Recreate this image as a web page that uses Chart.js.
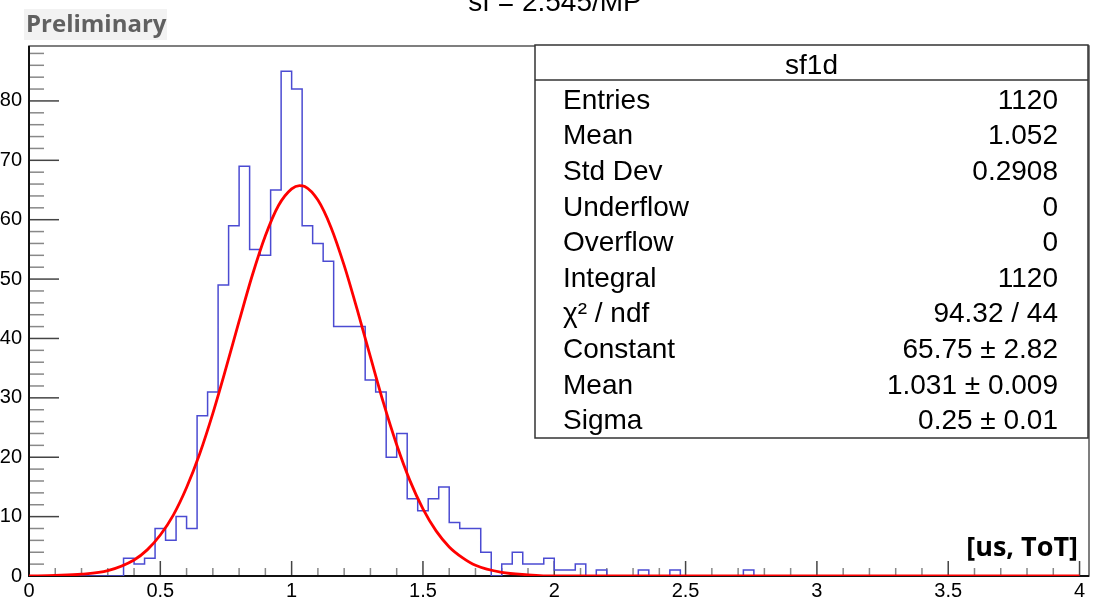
<!DOCTYPE html>
<html>
<head>
<meta charset="utf-8">
<title>sf1d</title>
<script src="https://cdn.jsdelivr.net/npm/chart.js@4.4.0/dist/chart.umd.min.js"></script>
<style>
  body { margin: 0; background: #fff; }
  #wrap { position: relative; width: 1101px; height: 606px; }
</style>
</head>
<body>
<div id="wrap"><canvas id="sf1d-chart"></canvas></div>
<script>
// Histogram sf1d: 100 bins of 0.04 between 0 and 4
const binLow = 0;
const binWidth = 0.04;
const binCounts = [
  0, 0, 0, 0, 0, 0, 0, 0, 0, 3,
  2, 3, 8, 6, 10, 8, 27, 31, 49, 59,
  69, 55, 54, 65, 85, 82, 59, 56, 53, 42,
  42, 42, 33, 31, 20, 24, 13, 11, 13, 15,
  9, 8, 8, 4, 0, 2, 4, 2, 2, 3,
  1, 1, 2, 0, 1, 0, 0, 0, 1, 0,
  0, 1, 0, 0, 0, 0, 0, 0, 1, 0,
  0, 0, 0, 0, 0, 0, 0, 0, 0, 0,
  0, 0, 0, 0, 0, 0, 0, 0, 0, 0,
  0, 0, 0, 0, 0, 0, 0, 0, 0, 0
];

// Gaussian fit curve
const fitX = [0, 0.1, 0.2, 0.3, 0.4, 0.45, 0.5, 0.55, 0.6, 0.65, 0.7, 0.75, 0.8, 0.85, 0.9, 0.95,
  1.0, 1.03, 1.05, 1.1, 1.15, 1.2, 1.25, 1.3, 1.35, 1.4, 1.45, 1.5, 1.55, 1.6, 1.65, 1.7,
  1.8, 1.9, 2.0, 2.2, 4.0];
const fitY = [0, 0.1, 0.3, 0.9, 2.7, 4.4, 6.9, 10.3, 14.9, 20.6, 27.4, 35.0, 42.9, 50.6, 57.3, 62.4,
  65.2, 65.75, 65.6, 63.3, 58.7, 52.3, 44.8, 36.9, 29.1, 22.1, 16.1, 11.3, 7.6, 4.9, 3.1, 1.8,
  0.6, 0.2, 0, 0, 0];

// Axis labels
const xTickValues = [0, 0.5, 1, 1.5, 2, 2.5, 3, 3.5, 4];
const yTickValues = [0, 10, 20, 30, 40, 50, 60, 70, 80];

// Stats box rows
const statsTitle = 'sf1d';
const statsNames = ['Entries', 'Mean', 'Std Dev', 'Underflow', 'Overflow', 'Integral', 'χ² / ndf', 'Constant', 'Mean', 'Sigma'];
const statsValues = ['1120', '1.052', '0.2908', '0', '0', '1120', '94.32 / 44', '65.75 ± 2.82', '1.031 ± 0.009', '0.25 ± 0.01'];

const histPoints = binCounts.map((c, i) => ({ x: binLow + i * binWidth, y: c }));
histPoints.push({ x: binLow + binCounts.length * binWidth, y: 0 });
const fitPoints = fitX.map((x, i) => ({ x, y: fitY[i] }));

const SANS = '"Liberation Sans", Arial, sans-serif';

// Frame and inward ticks, ROOT style
const framePlugin = {
    id: 'frame',
    beforeDatasetsDraw(chart) {
        const { ctx, chartArea: a, scales: { x, y } } = chart;
        ctx.save();
        ctx.strokeStyle = '#555';
        ctx.lineWidth = 1.5;
        ctx.strokeRect(a.left, a.top, a.right - a.left, a.bottom - a.top);

        // x ticks every 0.1, major every 0.5
        for (let i = 0; i <= 40; i++) {
            const px = x.getPixelForValue(i / 10);
            const major = i % 5 === 0;
            ctx.strokeStyle = major ? '#444' : '#888';
            ctx.beginPath();
            ctx.moveTo(px, a.bottom);
            ctx.lineTo(px, a.bottom - (major ? 15 : 8));
            ctx.stroke();
        }
        // y ticks every 2, major every 10
        for (let v = 0; v <= 88; v += 2) {
            const py = y.getPixelForValue(v);
            const major = v % 10 === 0;
            ctx.strokeStyle = major ? '#444' : '#888';
            ctx.beginPath();
            ctx.moveTo(a.left, py);
            ctx.lineTo(a.left + (major ? 30 : 15), py);
            ctx.stroke();
        }

        // axis lines
        ctx.strokeStyle = '#111';
        ctx.lineWidth = 2;
        ctx.beginPath();
        ctx.moveTo(a.left, a.top);
        ctx.lineTo(a.left, a.bottom);
        ctx.lineTo(a.right, a.bottom);
        ctx.stroke();
        ctx.restore();
    }
};

// Title, stats box and labels
const textPlugin = {
    id: 'texts',
    afterDraw(chart) {
        const { ctx } = chart;
        ctx.save();

        // title, cut at the top of the picture
        ctx.fillStyle = '#000';
        ctx.font = '28px ' + SANS;
        ctx.textAlign = 'center';
        ctx.textBaseline = 'alphabetic';
        ctx.fillText('sf = 2.545/MP', 555, 11);

        // Preliminary tag
        ctx.fillStyle = '#f2f2f2';
        ctx.fillRect(24, 9, 143, 31);
        ctx.fillStyle = '#606060';
        ctx.font = 'bold 24px "Open Sans", sans-serif';
        ctx.textAlign = 'left';
        ctx.fillText('Preliminary', 26, 32);

        // stats box
        const bx = 535, by = 45, bw = 553, bh = 393;
        ctx.fillStyle = '#fff';
        ctx.fillRect(bx, by, bw, bh);
        ctx.strokeStyle = '#333';
        ctx.lineWidth = 1.5;
        ctx.strokeRect(bx, by, bw, bh);
        ctx.beginPath();
        ctx.moveTo(bx, 80);
        ctx.lineTo(bx + bw, 80);
        ctx.stroke();

        ctx.fillStyle = '#000';
        ctx.font = '28px ' + SANS;
        ctx.textBaseline = 'middle';
        ctx.textAlign = 'center';
        ctx.fillText(statsTitle, bx + bw / 2, 66);
        statsNames.forEach((name, i) => {
            const rowY = 101 + i * 35.6;
            ctx.textAlign = 'left';
            ctx.fillText(name, 563, rowY);
            ctx.textAlign = 'right';
            ctx.fillText(statsValues[i], 1058, rowY);
        });

        // axis unit
        ctx.font = 'bold 27px "Open Sans", sans-serif';
        ctx.textAlign = 'right';
        ctx.textBaseline = 'alphabetic';
        ctx.fillText('[us, ToT]', 1078, 556);
        ctx.restore();
    }
};

const ctx = document.getElementById('sf1d-chart').getContext('2d');
new Chart(ctx, {
    type: 'line',
    data: {
        datasets: [
            {
                label: 'sf1d',
                data: histPoints,
                stepped: true,
                borderColor: '#4b4bd2',
                borderWidth: 1.5,
                pointRadius: 0,
                fill: false,
                order: 2,
            },
            {
                label: 'gaus',
                data: fitPoints,
                borderColor: '#ff0000',
                borderWidth: 2.8,
                pointRadius: 0,
                cubicInterpolationMode: 'monotone',
                fill: false,
                order: 1,
            },
        ],
    },
    options: {
        responsive: true,
        maintainAspectRatio: false,
        animation: false,
        layout: { padding: { top: 46, right: 12, left: 0, bottom: 0 } },
        plugins: {
            legend: { display: false },
            tooltip: { enabled: false },
        },
        scales: {
            x: {
                type: 'linear',
                min: 0,
                max: 4.036,
                grid: { display: false, drawTicks: false },
                border: { display: false },
                afterBuildTicks: scale => { scale.ticks = xTickValues.map(v => ({ value: v })); },
                afterFit: scale => { scale.height = 30; },
                ticks: {
                    autoSkip: false,
                    maxRotation: 0,
                    padding: 3,
                    color: '#000',
                    font: { family: SANS, size: 20 },
                    callback: v => String(v),
                },
            },
            y: {
                type: 'linear',
                min: 0,
                max: 89.25,
                grid: { display: false, drawTicks: false },
                border: { display: false },
                afterBuildTicks: scale => { scale.ticks = yTickValues.map(v => ({ value: v })); },
                afterFit: scale => { scale.width = 29; },
                ticks: {
                    autoSkip: false,
                    padding: 7,
                    color: '#000',
                    font: { family: SANS, size: 20 },
                    callback: v => String(v),
                },
            },
        },
    },
    plugins: [framePlugin, textPlugin],
});
</script>
</body>
</html>
